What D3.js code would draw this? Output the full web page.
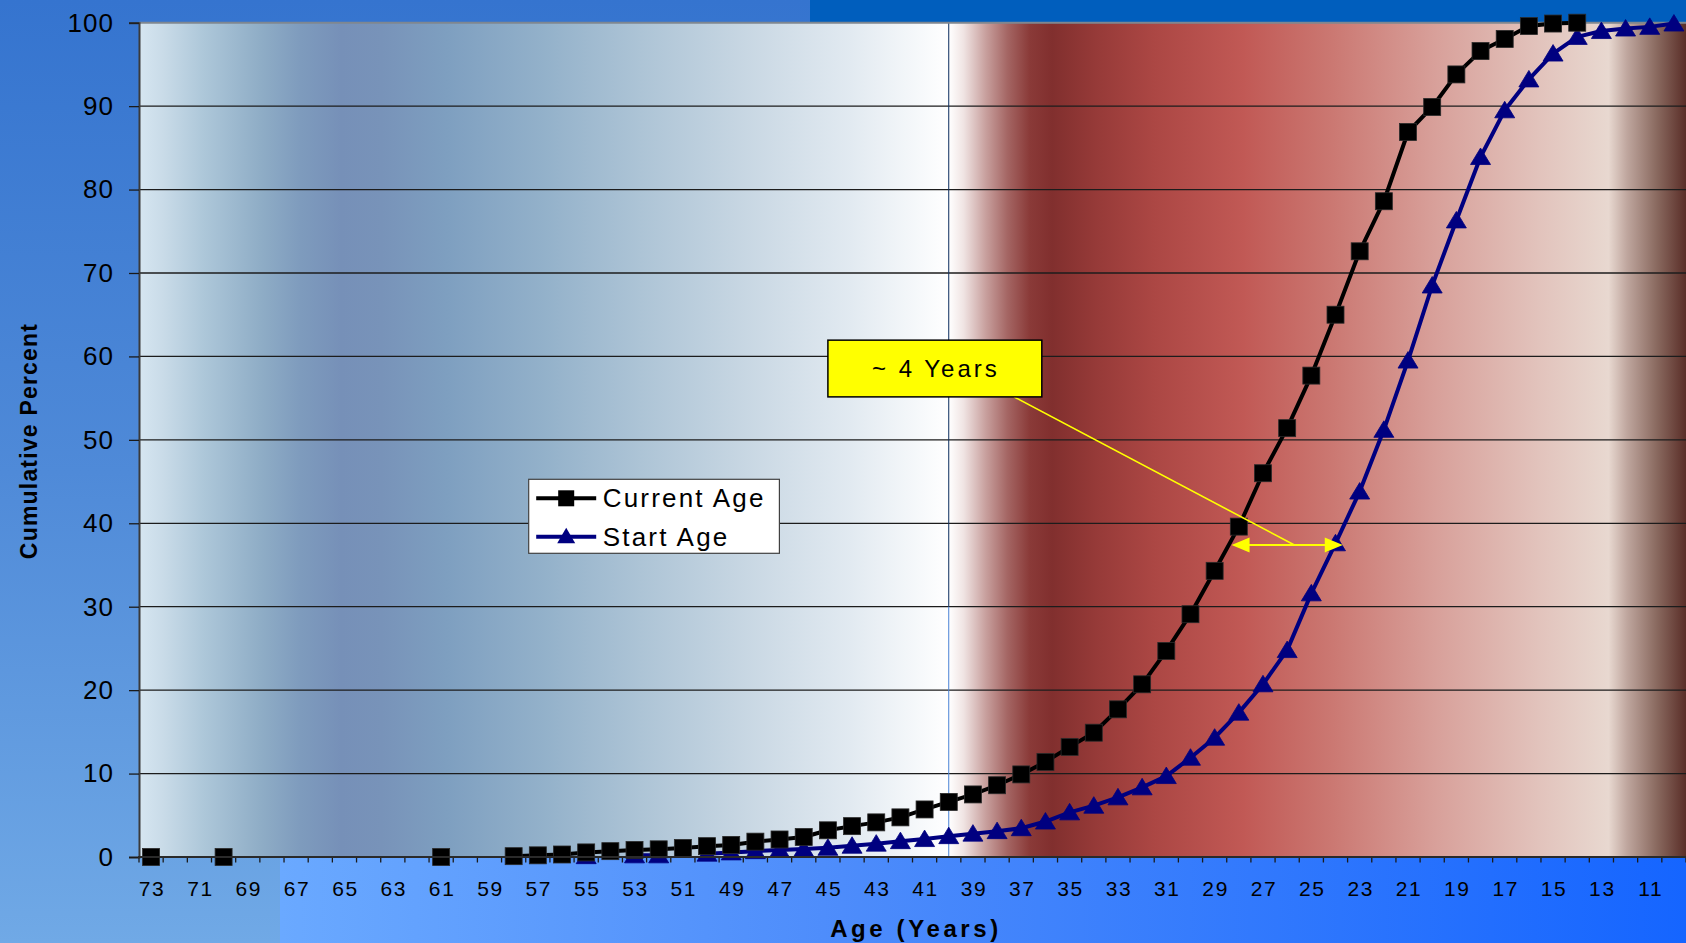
<!DOCTYPE html>
<html>
<head>
<meta charset="utf-8">
<script src="https://cdn.jsdelivr.net/npm/d3@7"></script>
<style>
  html, body { margin: 0; padding: 0; background: #3a76d0; }
  svg { display: block; }
  text { font-family: "Liberation Sans", Arial, sans-serif; }
</style>
</head>
<body>
<svg id="chart" width="1686" height="943"></svg>
<script>
// ---------------- DATA ----------------
const categories = [73,72,71,70,69,68,67,66,65,64,63,62,61,60,59,58,57,56,55,54,53,52,51,50,49,48,47,46,45,44,43,42,41,40,39,38,37,36,35,34,33,32,31,30,29,28,27,26,25,24,23,22,21,20,19,18,17,16,15,14,13,12,11,10];

const currentAge = [0,null,null,0,null,null,null,null,null,null,null,null,0,null,null,
  0.1,0.2,0.3,0.55,0.7,0.84,0.92,1.08,1.3,1.45,1.84,2.1,2.4,3.2,3.7,4.15,4.75,5.7,6.6,7.5,8.6,9.9,
  11.4,13.2,14.9,17.7,20.7,24.7,29.1,34.3,39.6,46.0,51.4,57.7,65.0,72.6,78.6,86.9,89.9,93.8,96.6,98.05,99.6,99.9,100,
  null,null,null,null];

const startAge = [null,null,null,null,null,null,null,null,null,null,null,null,null,null,null,null,null,null,
  0.1,null,0.2,0.2,null,0.4,0.55,0.7,0.85,0.95,1.1,1.35,1.6,1.9,2.15,2.5,2.8,3.1,3.45,4.25,5.35,6.15,7.15,8.35,9.7,
  11.9,14.3,17.3,20.7,24.8,31.6,37.6,43.8,51.2,59.5,68.5,76.3,83.9,89.5,93.2,96.3,98.3,99.0,99.3,99.5,99.9];

const xTickLabels = [73,71,69,67,65,63,61,59,57,55,53,51,49,47,45,43,41,39,37,35,33,31,29,27,25,23,21,19,17,15,13,11];
const yTicks = [0,10,20,30,40,50,60,70,80,90,100];
const seriesNames = ["Current Age", "Start Age"];
const annotationText = "~ 4 Years";
const xTitle = "Age (Years)";
const yTitle = "Cumulative Percent";

// ---------------- LAYOUT ----------------
const W = 1686, H = 943;
const plot = { left: 139, right: 1686, top: 22.7, bottom: 857 };

const svg = d3.select("#chart");
const defs = svg.append("defs");

function linGrad(id, stops, vertical) {
  const g = defs.append("linearGradient").attr("id", id)
    .attr("x1", 0).attr("y1", 0)
    .attr("x2", vertical ? 0 : 1).attr("y2", vertical ? 1 : 0);
  stops.forEach(([o, c]) => g.append("stop").attr("offset", o).attr("stop-color", c));
}

linGrad("bgVert", [[0, "#3574cf"], [0.5, "#4f8ad8"], [1, "#70a9e6"]], true);
linGrad("bgBottom", [[0, "#6aa9ff"], [0.4, "#4d8cfb"], [1, "#1565ff"]], false);
linGrad("panelLeft", [
  [0, "#d6e6f1"], [0.03, "#c9dbe8"], [0.08, "#adc7d9"], [0.15, "#8fadc6"],
  [0.2, "#7e9bbd"], [0.25, "#7690b8"], [0.3, "#7893b9"], [0.38, "#7e9fc0"],
  [0.5, "#93b1ca"], [0.62, "#adc4d6"], [0.75, "#c8d7e3"], [0.88, "#e2eaf1"], [1, "#ffffff"]
], false);
linGrad("panelRight", [
  [0, "#ffffff"], [0.02, "#f0e4e3"], [0.05, "#c8a09e"], [0.08, "#a46563"],
  [0.11, "#8a3a38"], [0.14, "#812f2e"], [0.2, "#963a38"], [0.28, "#ac4744"],
  [0.4, "#c15955"], [0.52, "#cb7872"], [0.66, "#d8a09a"], [0.8, "#e2c3bc"],
  [0.895, "#e8d8d0"], [0.92, "#bfa69e"], [0.96, "#8a6a60"], [1, "#5a2e28"]
], false);

// ---------------- SCALES ----------------
const x = d3.scaleBand().domain(categories).range([plot.left, plot.right]).padding(0);
const bw = x.bandwidth();
const xc = d => x(d) + bw / 2;
// continuous age scale through band centres (for annotation placement)
const xAge = d3.scaleLinear()
  .domain([categories[0], categories[categories.length - 1]])
  .range([xc(categories[0]), xc(categories[categories.length - 1])]);
const y = d3.scaleLinear().domain([0, 100]).range([plot.bottom, plot.top]);

// ---------------- BACKGROUND ----------------
svg.append("rect").attr("x", 0).attr("y", 0).attr("width", W).attr("height", H).attr("fill", "url(#bgVert)");
svg.append("rect").attr("x", 810).attr("y", 0).attr("width", W - 810).attr("height", plot.top).attr("fill", "#005ebd");
svg.append("rect").attr("x", 280).attr("y", plot.bottom).attr("width", W - 280).attr("height", H - plot.bottom).attr("fill", "url(#bgBottom)");

const splitX = xAge(40);
svg.append("rect").attr("x", plot.left).attr("y", plot.top)
  .attr("width", splitX - plot.left).attr("height", plot.bottom - plot.top).attr("fill", "url(#panelLeft)");
svg.append("rect").attr("x", splitX).attr("y", plot.top)
  .attr("width", plot.right - splitX).attr("height", plot.bottom - plot.top).attr("fill", "url(#panelRight)");

// gridlines
svg.append("g").selectAll("line").data(yTicks.filter(t => t > 0 && t < 100)).join("line")
  .attr("x1", plot.left).attr("x2", plot.right)
  .attr("y1", d => y(d)).attr("y2", d => y(d))
  .attr("stroke", "#1c1c1c").attr("stroke-width", 1.3);

// vertical divider
svg.append("line").attr("x1", splitX).attr("x2", splitX).attr("y1", plot.top).attr("y2", y(30))
  .attr("stroke", "#12305e").attr("stroke-width", 1);
svg.append("line").attr("x1", splitX).attr("x2", splitX).attr("y1", y(30)).attr("y2", plot.bottom)
  .attr("stroke", "#4f86d6").attr("stroke-width", 1);

// top border
svg.append("line").attr("x1", plot.left).attr("x2", plot.right).attr("y1", plot.top).attr("y2", plot.top)
  .attr("stroke", "#7f8790").attr("stroke-width", 2);

// ---------------- SERIES ----------------
const line = d3.line()
  .defined(d => d.v !== null)
  .x(d => xc(d.c)).y(d => y(d.v));

const curData = categories.map((c, i) => ({ c, v: currentAge[i] }));
const staData = categories.map((c, i) => ({ c, v: startAge[i] }));

svg.append("path").datum(staData).attr("d", line)
  .attr("fill", "none").attr("stroke", "#000080").attr("stroke-width", 4).attr("stroke-linejoin", "round");
svg.append("path").datum(curData).attr("d", line)
  .attr("fill", "none").attr("stroke", "#000000").attr("stroke-width", 4).attr("stroke-linejoin", "round");

const triPath = "M0,-9 L10,7.5 L-10,7.5 Z";
svg.append("g").selectAll("path").data(staData.filter(d => d.v !== null)).join("path")
  .attr("d", triPath)
  .attr("transform", d => `translate(${xc(d.c)},${y(d.v)})`)
  .attr("fill", "#000080").attr("stroke", "#000080").attr("stroke-width", 0.8);

const sq = 17;
svg.append("g").selectAll("rect").data(curData.filter(d => d.v !== null)).join("rect")
  .attr("x", d => xc(d.c) - sq / 2).attr("y", d => y(d.v) - sq / 2)
  .attr("width", sq).attr("height", sq)
  .attr("fill", "#000000").attr("stroke", "#2a2a2a").attr("stroke-width", 0.8);

// ---------------- ANNOTATION ----------------
const yellow = "#ffff00";
// leader line
svg.append("line")
  .attr("x1", xAge(37.3)).attr("y1", y(55.15))
  .attr("x2", xAge(25.7)).attr("y2", y(37.4))
  .attr("stroke", yellow).attr("stroke-width", 1.6);
// double arrow
const ax1 = xAge(28.3), ax2 = xAge(23.7), ay = y(37.4);
const headL = 18, headH = 7.5;
svg.append("line").attr("x1", ax1 + headL - 2).attr("x2", ax2 - headL + 2).attr("y1", ay).attr("y2", ay)
  .attr("stroke", yellow).attr("stroke-width", 2);
svg.append("path").attr("d", `M${ax1},${ay} L${ax1 + headL},${ay - headH} L${ax1 + headL},${ay + headH} Z`).attr("fill", yellow);
svg.append("path").attr("d", `M${ax2},${ay} L${ax2 - headL},${ay - headH} L${ax2 - headL},${ay + headH} Z`).attr("fill", yellow);
// box
const bx0 = xAge(45.0), bx1 = xAge(36.15), by0 = y(61.95), by1 = y(55.15);
svg.append("rect").attr("x", bx0).attr("y", by0).attr("width", bx1 - bx0).attr("height", by1 - by0)
  .attr("fill", yellow).attr("stroke", "#000").attr("stroke-width", 1.5);
svg.append("text").attr("x", (bx0 + bx1) / 2 + 1).attr("y", (by0 + by1) / 2).attr("dy", "0.34em")
  .attr("text-anchor", "middle").attr("font-size", 24).attr("letter-spacing", 3)
  .attr("fill", "#000").text(annotationText);

// ---------------- AXES ----------------
// y axis
const yAxis = svg.append("g").attr("transform", `translate(${plot.left},0)`)
  .call(d3.axisLeft(y).tickValues(yTicks).tickSize(10).tickPadding(15));
yAxis.select(".domain").attr("stroke", "#3a3a3a").attr("stroke-width", 2);
yAxis.selectAll(".tick line").attr("stroke", "#1a1a1a").attr("stroke-width", 1.3);
yAxis.selectAll(".tick text").attr("font-size", 26).attr("letter-spacing", 1)
  .attr("fill", "#000").style("font-family", '"Liberation Sans", Arial, sans-serif');

// x axis labels
const xAxis = svg.append("g").attr("transform", `translate(0,${plot.bottom})`)
  .call(d3.axisBottom(x).tickValues(xTickLabels).tickSize(0).tickPadding(24));
xAxis.select(".domain").remove();
xAxis.selectAll(".tick text").attr("font-size", 21).attr("letter-spacing", 1.6).attr("dx", "1")
  .attr("fill", "#000").style("font-family", '"Liberation Sans", Arial, sans-serif');
// x tick marks between categories
const boundaries = categories.map(c => x(c)).concat([plot.right]);
svg.append("g").selectAll("line").data(boundaries).join("line")
  .attr("x1", d => d).attr("x2", d => d)
  .attr("y1", plot.bottom).attr("y2", plot.bottom + 5.5)
  .attr("stroke", "#1a1a1a").attr("stroke-width", 1.3);
svg.append("line").attr("x1", plot.left - 1).attr("x2", plot.right).attr("y1", plot.bottom).attr("y2", plot.bottom)
  .attr("stroke", "#2a2a2a").attr("stroke-width", 2);

// axis titles
svg.append("text").attr("x", 916).attr("y", 936.5).attr("text-anchor", "middle")
  .attr("font-size", 24).attr("font-weight", "bold").attr("letter-spacing", 3.6)
  .attr("fill", "#000").text(xTitle);
svg.append("text").attr("transform", "translate(37,441) rotate(-90)").attr("text-anchor", "middle")
  .attr("font-size", 23).attr("font-weight", "bold").attr("letter-spacing", 1.2)
  .attr("fill", "#000").text(yTitle);

// ---------------- LEGEND ----------------
const lg = svg.append("g").attr("transform", "translate(528.7,479.3)");
lg.append("rect").attr("width", 250.7).attr("height", 74).attr("fill", "#fff")
  .attr("stroke", "#404040").attr("stroke-width", 1.2);
const items = [
  { name: seriesNames[0], color: "#000000", shape: "square", dy: 19 },
  { name: seriesNames[1], color: "#000080", shape: "tri", dy: 57.4 }
];
items.forEach(it => {
  const g = lg.append("g").attr("transform", `translate(0,${it.dy})`);
  g.append("line").attr("x1", 7.5).attr("x2", 67.5).attr("y1", 0).attr("y2", 0)
    .attr("stroke", it.color).attr("stroke-width", 4);
  if (it.shape === "square") {
    g.append("rect").attr("x", 37.5 - 8).attr("y", -8).attr("width", 16).attr("height", 16).attr("fill", it.color);
  } else {
    g.append("path").attr("d", "M37.5,-9 L46.5,6.5 L28.5,6.5 Z").attr("fill", it.color);
  }
  g.append("text").attr("x", 74).attr("y", 0).attr("dy", "0.35em")
    .attr("font-size", 26).attr("letter-spacing", 2.2).attr("fill", "#000").text(it.name);
});
</script>
</body>
</html>
